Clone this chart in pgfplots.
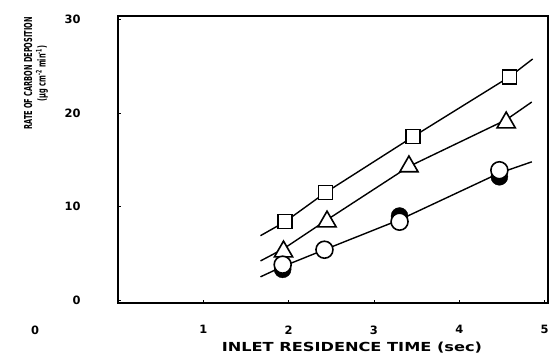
\documentclass[border=0pt]{standalone}
\usepackage{fontspec}
\setmainfont{DejaVu Sans}
\usepackage{graphicx}
\usepackage{pgfplots}
\pgfplotsset{compat=1.18}
\begin{document}
\begin{tikzpicture}[x=1bp,y=1bp]
\begin{axis}[
  at={(118bp,61bp)}, anchor=south west,
  scale only axis, width=430bp, height=287bp,
  xmin=0, xmax=5.04, ymin=-0.3, ymax=30.4,
  xtick={1,2,3,4,5}, ytick={0,10,20,30},
  axis line style={line width=1.6bp},
  tick style={black, line width=0.8bp},
  major tick length=3bp,
  tick align=inside,
  xtick pos=bottom, ytick pos=left,
  /pgf/number format/assume math mode=true,
  ticklabel style={font=\fontsize{11.5}{12}\selectfont\bfseries},
  yticklabel style={xshift=-34bp},
  xticklabel style={yshift=-19bp},
  xlabel={INLET RESIDENCE TIME (sec)},
  xlabel style={font=\fontsize{12.5}{14}\selectfont\bfseries, at={(axis description cs:0.544,0)}, anchor=center, yshift=-45bp, xscale=1.3},
  ylabel={\scalebox{0.6}[1]{\begin{tabular}{@{}c@{}}RATE OF CARBON DEPOSITION\\(μg cm\textsuperscript{-2} min\textsuperscript{-1})\end{tabular}}},
  ylabel style={font=\fontsize{11}{13}\selectfont\bfseries, at={(axis description cs:-0.19,0.80)}, anchor=center},
  clip=false,
]
% fitted lines
\addplot[black, line width=1.4bp] coordinates {(1.67,6.9) (1.96,8.4) (2.43,11.5) (3.46,17.5) (4.59,23.9) (4.86,25.8)};
\addplot[black, line width=1.4bp] coordinates {(1.67,4.2) (1.94,5.5) (2.45,8.6) (3.41,14.3) (4.55,19.3) (4.85,21.2)};
\addplot[black, line width=1.4bp] coordinates {(1.67,2.5) (1.93,3.6) (2.42,5.4) (3.30,8.6) (4.47,13.6) (4.85,14.8)};
% squares
\addplot[only marks, mark=square*, mark size=7bp, mark options={draw=black, fill=white, line width=1.6bp}] coordinates {(1.96,8.4) (2.43,11.5) (3.46,17.5) (4.59,23.9)};
% triangles
\addplot[only marks, mark=triangle*, mark size=10.5bp, mark options={draw=black, fill=white, line width=1.6bp}] coordinates {(1.94,5.2) (2.45,8.4) (3.41,14.3) (4.55,19.0)};
% filled circles
\addplot[only marks, mark=*, mark size=8.5bp, mark options={draw=black, fill=black}] coordinates {(1.93,3.3) (3.30,9.0) (4.47,13.2)};
% open circles
\addplot[only marks, mark=*, mark size=8.5bp, mark options={draw=black, fill=white, line width=1.6bp}] coordinates {(1.93,3.8) (2.42,5.4) (3.30,8.4) (4.47,13.9)};
\end{axis}
\node[font=\fontsize{11.5}{12}\selectfont\bfseries] at (35bp,34bp) {0};
\pgfresetboundingbox
\path[use as bounding box] (0,0) rectangle (550bp,364bp);
\end{tikzpicture}
\end{document}
